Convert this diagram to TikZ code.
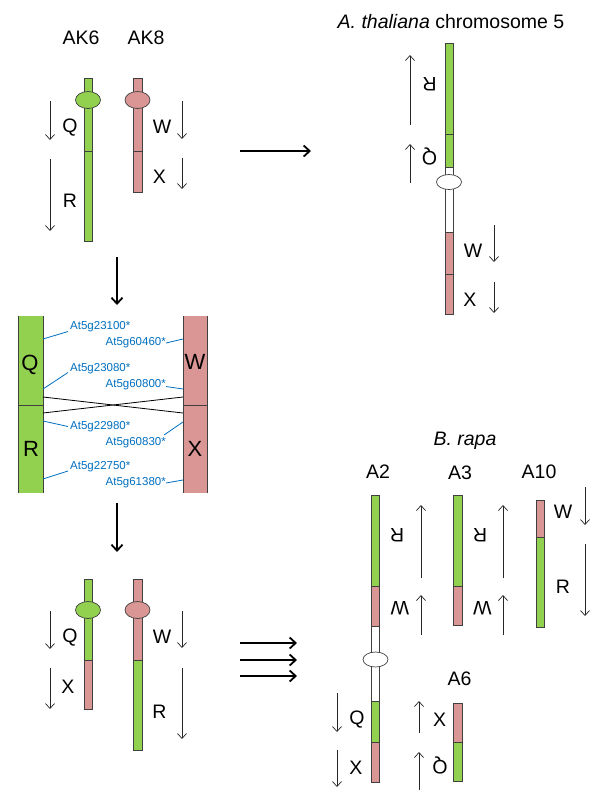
\documentclass[tikz,border=0pt]{standalone}
\usepackage{fontspec}
\setmainfont{Liberation Sans}
\usetikzlibrary{arrows.meta}
\definecolor{chg}{HTML}{92D050}
\definecolor{chp}{HTML}{D99694}
\definecolor{gblue}{HTML}{0070C0}
\begin{document}
\begin{tikzpicture}[x=1pt,y=-1pt,
  seg/.style={draw=black!75, line width=0.7pt},
  lab/.style={font=\fontsize{19.5}{22}\selectfont, inner sep=0pt},
  biglab/.style={font=\fontsize{22}{24}\selectfont, inner sep=0pt},
  gene/.style={font=\fontsize{11.5}{13}\selectfont, text=gblue, inner sep=0pt},
  gline/.style={draw=gblue, line width=0.8pt},
  arr/.style={draw=black!85, line width=0.7pt, -{Straight Barb[length=5pt,width=9pt]}},
  bigarr/.style={draw=black, line width=1.8pt, -{Straight Barb[length=6pt,width=11pt]}},
  cen/.style={seg, x radius=12.5pt, y radius=8.5pt}]
\useasboundingbox (0,0) rectangle (600,807);
\fill[white] (0,0) rectangle (600,807);

% ---------- top left: AK6 and AK8 ----------
\node[lab] (ak6) at (81,38) {AK6};
\node[lab] (ak8) at (146,38) {AK8};
\draw[seg, fill=chg] (84,78) rectangle (92,151);
\draw[seg, fill=chg] (84,151) rectangle (92,241);
\draw[cen, fill=chg] (88,100) ellipse [];
\draw[seg, fill=chp] (133,78) rectangle (142,151);
\draw[seg, fill=chp] (133,151) rectangle (142,192);
\draw[cen, fill=chp] (137.5,100) ellipse [];
\node[lab] (q1) at (70,128) {Q};
\node[lab] (r1) at (70,201) {R};
\node[lab] (w1) at (162,127) {W};
\node[lab] (x1) at (159.5,177) {X};
\draw[arr] (50,101) -- (50,140);
\draw[arr] (50,159) -- (50,231);
\draw[arr] (182,101) -- (182,139);
\draw[arr] (182,158) -- (182,189);

\coordinate (ra0) at (240,151);
\coordinate (ra1) at (311,151);
\draw[bigarr] (ra0) -- (ra1);

% ---------- top right: A. thaliana chr 5 ----------
\node[lab] (ath) at (451,22) {\textit{A. thaliana} chromosome 5};
\draw[seg, fill=chg] (445,43) rectangle (453,134);
\draw[seg, fill=chg] (445,134) rectangle (453,167);
\draw[seg, fill=white] (445,167) rectangle (453,232);
\draw[seg, fill=chp] (445,232) rectangle (453,274);
\draw[seg, fill=chp] (445,274) rectangle (453,314);
\draw[seg, fill=white] (449,182) ellipse [x radius=12.5pt, y radius=7.5pt];
\node[lab, rotate=180] (r2) at (429.5,84) {R};
\node[lab, rotate=180] (q2) at (429.5,156) {Q};
\node[lab] (w2) at (473,251) {W};
\node[lab] (x2) at (470,300) {X};
\draw[arr] (410,125) -- (410,55);
\draw[arr] (410,183) -- (410,144);
\draw[arr] (494,225) -- (494,262);
\draw[arr] (494,282) -- (494,313);

\coordinate (da0) at (117,257);
\coordinate (da1) at (117,305);
\draw[bigarr] (da0) -- (da1);

% ---------- middle: Q/R and W/X blocks ----------
\fill[chg] (18,316) rectangle (43,493);
\fill[chp] (183,316) rectangle (207,493);
\draw[seg] (18,316) -- (18,493) (43,316) -- (43,493) (18,405) -- (43,405);
\draw[seg] (183,316) -- (183,493) (207,316) -- (207,493) (183,405) -- (207,405);
\node[biglab] (q3) at (30,365) {Q};
\node[biglab] (r3) at (31,449) {R};
\node[biglab] (w3) at (195,362) {W};
\node[biglab] (x3) at (195,449) {X};

\node[gene, anchor=west] (g1) at (70,327) {At5g23100*};
\node[gene, anchor=east] (g2) at (166,343) {At5g60460*};
\node[gene, anchor=west] (g3) at (70,369) {At5g23080*};
\node[gene, anchor=east] (g4) at (166,385) {At5g60800*};
\node[gene, anchor=west] (g5) at (70,427) {At5g22980*};
\node[gene, anchor=east] (g6) at (166,443) {At5g60830*};
\node[gene, anchor=west] (g7) at (70,467) {At5g22750*};
\node[gene, anchor=east] (g8) at (166,483) {At5g61380*};
\coordinate (l1) at (43,339); \coordinate (l2) at (43,389);
\coordinate (l3) at (43,421); \coordinate (l4) at (43,479);
\coordinate (p1) at (183,339); \coordinate (p2) at (183,389);
\coordinate (p3) at (183,422); \coordinate (p4) at (183,480);
\draw[gline] (l1) -- (68,331.5);
\draw[gline] (l2) -- (68,372.5);
\draw[gline] (l3) -- (68,426.5);
\draw[gline] (l4) -- (68,471);
\draw[gline] (p1) -- (166,343);
\draw[gline] (p2) -- (166,386.5);
\draw[gline] (p3) -- (164,435);
\draw[gline] (p4) -- (166,483);
\coordinate (cl1) at (43,397); \coordinate (cr1) at (183,413);
\coordinate (cl2) at (43,413); \coordinate (cr2) at (183,397);
\draw[line width=0.8pt] (cl1) -- (cr1);
\draw[line width=0.8pt] (cl2) -- (cr2);

\coordinate (db0) at (117,503);
\coordinate (db1) at (117,552);
\draw[bigarr] (db0) -- (db1);

% ---------- bottom left: translocated ----------
\draw[seg, fill=chg] (84,579) rectangle (92,660);
\draw[seg, fill=chp] (84,660) rectangle (92,709);
\draw[cen, fill=chg] (88,610) ellipse [];
\draw[seg, fill=chp] (133,579) rectangle (142,660);
\draw[seg, fill=chg] (133,660) rectangle (142,750);
\draw[cen, fill=chp] (137.5,610) ellipse [];
\node[lab] (q4) at (70,637.5) {Q};
\node[lab] (x4) at (68,687) {X};
\node[lab] (w4) at (162,637) {W};
\node[lab] (r4) at (159.5,711.5) {R};
\draw[arr] (50,611) -- (50,649);
\draw[arr] (50,668) -- (50,709);
\draw[arr] (182,611) -- (182,648);
\draw[arr] (182,668) -- (182,739);

\coordinate (t0a) at (240,643); \coordinate (t1a) at (297,643);
\coordinate (t0b) at (240,660); \coordinate (t1b) at (297,660);
\coordinate (t0c) at (240,676); \coordinate (t1c) at (297,676);
\draw[bigarr] (t0a) -- (t1a);
\draw[bigarr] (t0b) -- (t1b);
\draw[bigarr] (t0c) -- (t1c);

% ---------- bottom right: B. rapa ----------
\node[lab] (bra) at (465,441) {\textit{B. rapa}};
\node[lab] (a2) at (378,472) {A2};
\node[lab] (a3) at (460,473) {A3};
\node[lab] (a10) at (539,472) {A10};
\node[lab] (a6) at (459.5,679) {A6};

% A2
\draw[seg, fill=chg] (371,495) rectangle (379,586);
\draw[seg, fill=chp] (371,586) rectangle (379,626);
\draw[seg, fill=white] (371,626) rectangle (379,701);
\draw[seg, fill=chg] (371,701) rectangle (379,742);
\draw[seg, fill=chp] (371,742) rectangle (379,782);
\draw[seg, fill=white] (375.5,659.5) ellipse [x radius=12.5pt, y radius=7.5pt];
\node[lab, rotate=180] (r5) at (397,535) {R};
\node[lab, rotate=180] (w5) at (400,608) {W};
\draw[arr] (421,578) -- (421,505);
\draw[arr] (421,635) -- (421,595);
\node[lab] (q5) at (357,720) {Q};
\node[lab] (x5) at (356,768) {X};
\draw[arr] (337,693) -- (337,732);
\draw[arr] (337,750) -- (337,787);

% A3
\draw[seg, fill=chg] (453,495) rectangle (462,586);
\draw[seg, fill=chp] (453,586) rectangle (462,625);
\node[lab, rotate=180] (r6) at (480,535) {R};
\node[lab, rotate=180] (w6) at (482.5,608) {W};
\draw[arr] (503,578) -- (503,505);
\draw[arr] (503,635) -- (503,595);

% A10
\draw[seg, fill=chp] (536,500) rectangle (544,537);
\draw[seg, fill=chg] (536,537) rectangle (544,627);
\node[lab] (w7) at (563,512) {W};
\node[lab] (r7) at (563,587) {R};
\draw[arr] (585,487) -- (585,525);
\draw[arr] (585,544) -- (585,616);

% A6
\draw[seg, fill=chp] (453,703) rectangle (462,742);
\draw[seg, fill=chg] (453,742) rectangle (462,781);
\node[lab] (x8) at (439.5,720) {X};
\node[lab, rotate=180] (q8) at (440,765.5) {Q};
\draw[arr] (419,733) -- (419,701);
\draw[arr] (419,790) -- (419,752);
\end{tikzpicture}
\end{document}
